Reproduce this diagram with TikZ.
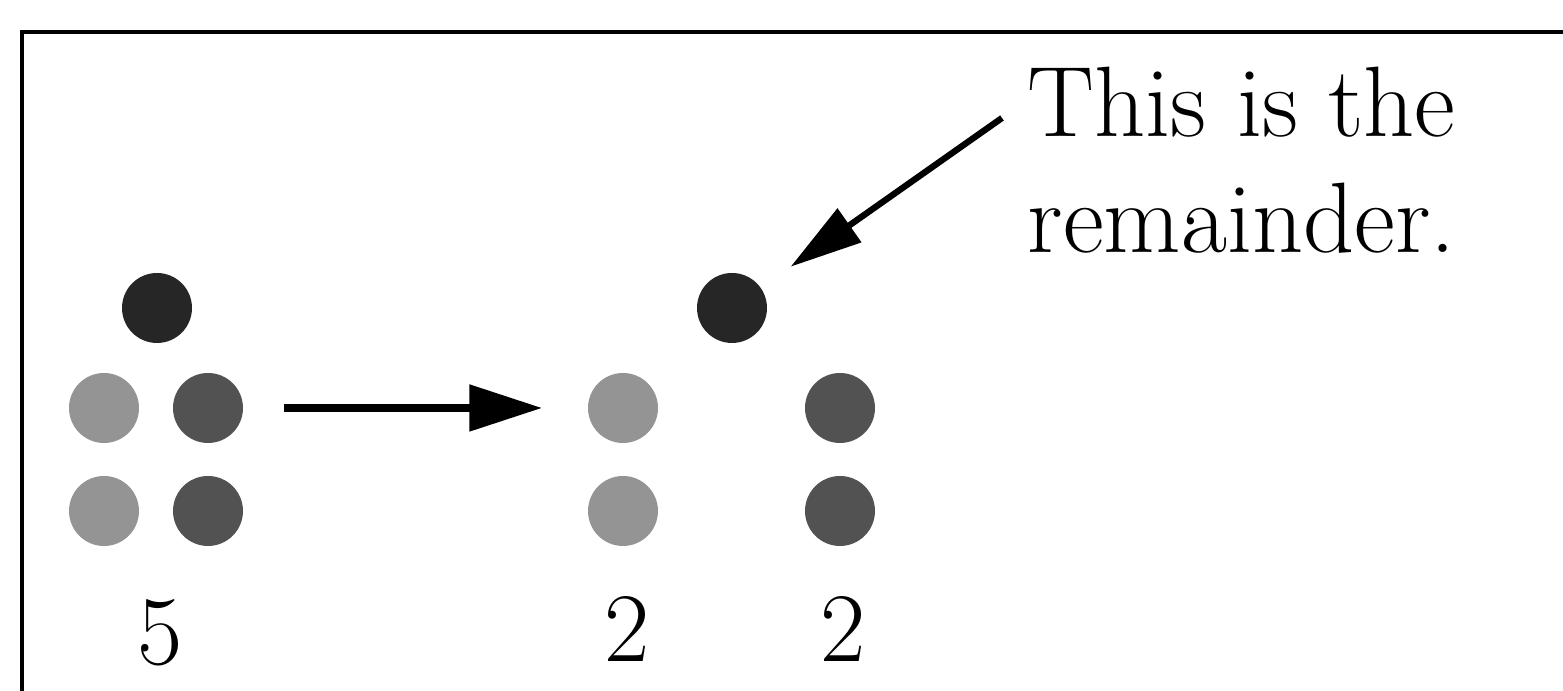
\documentclass[tikz,border=0pt]{standalone}
\usepackage{xcolor}
\usepackage{tikz}
\usetikzlibrary{arrows.meta}

\definecolor{darkbead}{gray}{0.15}
\definecolor{lightbead}{gray}{0.58}
\definecolor{midbead}{gray}{0.32}

\tikzset{
  bead/.style={circle, minimum size=0.7cm, inner sep=0pt},
  bignum/.style={anchor=base, font=\fontsize{28}{33}\selectfont},
  note/.style={anchor=base west, inner sep=0pt, font=\fontsize{28.5}{33}\selectfont},
}

\begin{document}
\begin{tikzpicture}
\useasboundingbox (0,0) rectangle (15.63,6.91);

% Frame
\draw[line width=1.4pt] (0.22,-0.2) -- (0.22,6.59) -- (15.8,6.59);

% Five beads
\node[bead, fill=darkbead] (ltop) at (1.57,3.83) {};
\node[bead, fill=lightbead] (l2a) at (1.04,2.83) {};
\node[bead, fill=midbead] (l2b) at (2.08,2.83) {};
\node[bead, fill=lightbead] (l3a) at (1.04,1.80) {};
\node[bead, fill=midbead] (l3b) at (2.08,1.80) {};
\node[bignum] (five) at (1.60,0.26) {5};

% Split into two groups
\node[bead, fill=darkbead] (rtop) at (7.32,3.83) {};
\node[bead, fill=lightbead] (r2a) at (6.23,2.83) {};
\node[bead, fill=midbead] (r2b) at (8.40,2.83) {};
\node[bead, fill=lightbead] (r3a) at (6.23,1.80) {};
\node[bead, fill=midbead] (r3b) at (8.40,1.80) {};
\node[bignum] (twoa) at (6.27,0.29) {2};
\node[bignum] (twob) at (8.43,0.29) {2};

\draw[line width=2.4pt, -{Triangle[length=7.3mm, width=4.5mm]},
  shorten <=0.40cm, shorten >=0.45cm] (l2b.east) -- (r2a.west);

% Remainder note
\node[note] (note1) at (10.27,5.54) {This is the};
\node[note] (note2) at (10.27,4.38) {remainder.};
\coordinate (tail) at ([shift={(-0.25,0.19)}]note1.base west);
\draw[line width=1.8pt, -{Triangle[length=7.2mm, width=4.0mm]},
  shorten >=0.36cm] (tail) -- (rtop);
\end{tikzpicture}
\end{document}
